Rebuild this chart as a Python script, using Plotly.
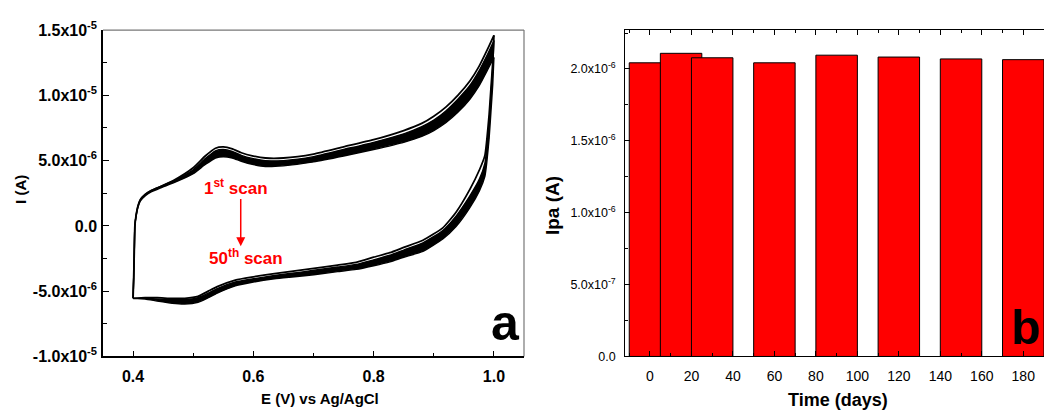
import plotly.graph_objects as go

# ---------------- Panel a: cyclic voltammograms (currents in µA) ----------------
# forward (anodic) sweep, 0.4 V -> 1.0 V
E_fwd = [0.400, 0.401, 0.402, 0.403, 0.405, 0.408, 0.412, 0.420, 0.430, 0.445,
         0.470, 0.500, 0.520, 0.537, 0.550, 0.565, 0.580, 0.600, 0.620, 0.650,
         0.700, 0.750, 0.800, 0.850, 0.880, 0.900, 0.920, 0.940, 0.960, 0.975,
         0.990, 1.000]
I_fwd_scan1 = [-5.55, -4.0, -2.0, 0.0, 0.8, 1.5, 2.0, 2.4, 2.7, 3.0,
               3.55, 4.45, 5.35, 5.95, 6.05, 5.9, 5.6, 5.35, 5.2, 5.2,
               5.5, 6.05, 6.6, 7.3, 7.85, 8.4, 9.1, 10.0, 11.1, 12.2,
               13.6, 14.6]
I_fwd_scan2 = [-5.55, -4.0, -2.0, 0.0, 0.8, 1.5, 2.0, 2.4, 2.7, 3.0,
               3.5, 4.3, 5.15, 5.75, 5.85, 5.7, 5.4, 5.15, 5.0, 5.0,
               5.3, 5.85, 6.4, 7.05, 7.6, 8.1, 8.8, 9.7, 10.75, 11.85,
               13.2, 14.2]
I_fwd_scan50 = [-5.5, -4.0, -2.0, 0.0, 0.75, 1.4, 1.9, 2.3, 2.6, 2.9,
                3.35, 4.0, 4.7, 5.2, 5.3, 5.2, 4.95, 4.7, 4.55, 4.6,
                4.9, 5.35, 5.85, 6.4, 6.85, 7.3, 7.9, 8.7, 9.7, 10.7,
                12.0, 12.9]

# reverse (cathodic) sweep, 1.0 V -> 0.4 V
E_rev = [1.000, 0.998, 0.995, 0.992, 0.988, 0.985, 0.976, 0.960, 0.937, 0.915,
         0.882, 0.850, 0.827, 0.800, 0.771, 0.740, 0.716, 0.685, 0.660, 0.635,
         0.600, 0.570, 0.540, 0.525, 0.508, 0.486, 0.465, 0.440, 0.420, 0.400]
I_rev_scan1 = [14.6, 12.5, 10.5, 8.5, 6.5, 5.4, 4.3, 2.8, 1.05, -0.15,
               -1.1, -1.65, -2.05, -2.4, -2.8, -3.0, -3.15, -3.35, -3.5, -3.65,
               -3.9, -4.15, -4.65, -5.0, -5.4, -5.55, -5.55, -5.5, -5.5, -5.55]
I_rev_scan2 = [14.2, 12.1, 10.0, 7.9, 5.9, 4.8, 3.6, 2.3, 0.75, -0.35,
               -1.3, -1.85, -2.25, -2.6, -2.95, -3.15, -3.3, -3.5, -3.65, -3.8,
               -4.05, -4.3, -4.8, -5.15, -5.5, -5.65, -5.65, -5.6, -5.55, -5.55]
I_rev_scan50 = [12.9, 10.8, 8.7, 6.7, 4.8, 3.8, 2.7, 1.4, -0.05, -1.0,
                -1.95, -2.4, -2.75, -3.05, -3.33, -3.5, -3.65, -3.82, -3.93, -4.05,
                -4.3, -4.6, -5.15, -5.5, -5.85, -5.98, -5.92, -5.75, -5.6, -5.55]

a_yticks = [-1.0e-5, -5.0e-6, 0.0, 5.0e-6, 1.0e-5, 1.5e-5]
a_yticktext = ["-1.0x10<sup>-5</sup>", "-5.0x10<sup>-6</sup>", "0.0",
               "5.0x10<sup>-6</sup>", "1.0x10<sup>-5</sup>", "1.5x10<sup>-5</sup>"]
a_yminor = [-7.5e-6, -2.5e-6, 2.5e-6, 7.5e-6, 1.25e-5]
a_xticks = [0.4, 0.6, 0.8, 1.0]
a_xminor = [0.5, 0.7, 0.9]

# ---------------- Panel b: peak anodic current vs storage time ----------------
days = [0, 15, 30, 60, 90, 120, 150, 180]
ipa_uA = [2.043, 2.109, 2.078, 2.043, 2.096, 2.083, 2.070, 2.065]
b_yticks = [0.0, 5.0e-7, 1.0e-6, 1.5e-6, 2.0e-6]
b_yticktext = ["0.0", "5.0x10<sup>-7</sup>", "1.0x10<sup>-6</sup>",
               "1.5x10<sup>-6</sup>", "2.0x10<sup>-6</sup>"]
b_xticks = [0, 20, 40, 60, 80, 100, 120, 140, 160, 180]

UA = 1e-6
FONT = "Liberation Sans, Arial, sans-serif"
W, H = 1044, 414


def px_x(p):
    return p / W


def px_y(p):
    return 1 - p / H


fig = go.Figure()

spline = dict(shape="spline", smoothing=0.5)

# dense band of scans 2..50 as a filled region, forward and reverse sweeps
for E, upper, lower in ((E_fwd, I_fwd_scan2, I_fwd_scan50),
                        (E_rev, I_rev_scan2, I_rev_scan50)):
    fig.add_trace(go.Scatter(x=E, y=[v * UA for v in upper], mode="lines",
                             line=dict(color="black", width=1.4, **spline),
                             xaxis="x", yaxis="y", showlegend=False,
                             hoverinfo="skip"))
    fig.add_trace(go.Scatter(x=E, y=[v * UA for v in lower], mode="lines",
                             line=dict(color="black", width=1.4, **spline),
                             fill="tonexty", fillcolor="black",
                             xaxis="x", yaxis="y", showlegend=False,
                             hoverinfo="skip"))

# first scan, separated from the band
for E, I in ((E_fwd, I_fwd_scan1), (E_rev, I_rev_scan1)):
    fig.add_trace(go.Scatter(x=E, y=[v * UA for v in I], mode="lines",
                             line=dict(color="black", width=1.8, **spline),
                             xaxis="x", yaxis="y", showlegend=False,
                             hoverinfo="skip"))

# bars
fig.add_trace(go.Bar(x=days, y=[v * UA for v in ipa_uA], width=[20] * len(days),
                     marker=dict(color="#ff0000",
                                 line=dict(color="black", width=1)),
                     xaxis="x2", yaxis="y2", showlegend=False,
                     hoverinfo="skip"))

dom_y = [px_y(363), px_y(20)]

fig.update_layout(
    width=W, height=H,
    margin=dict(l=0, r=0, t=0, b=0),
    paper_bgcolor="white", plot_bgcolor="white",
    font=dict(family=FONT, color="black"),
    xaxis=dict(domain=[px_x(103), px_x(524)], range=[0.35, 1.05], anchor="y",
               showgrid=False, zeroline=False, showline=True,
               linecolor="black", linewidth=1.5,
               ticks="inside", ticklen=6, tickwidth=1.2, tickcolor="black",
               tickmode="array", tickvals=a_xticks,
               ticktext=[f"{v:.1f}" for v in a_xticks],
               tickfont=dict(size=16, weight="bold"), ticklabelstandoff=5,
               minor=dict(tickmode="array", tickvals=a_xminor, ticks="inside",
                          ticklen=4, tickwidth=1.2, tickcolor="black")),
    yaxis=dict(domain=dom_y, range=[-1.0e-5, 1.5e-5], anchor="x",
               showgrid=False, zeroline=False, showline=True,
               linecolor="black", linewidth=1.5,
               ticks="inside", ticklen=6, tickwidth=1.2, tickcolor="black",
               tickmode="array", tickvals=a_yticks, ticktext=a_yticktext,
               tickfont=dict(size=16, weight="bold"), ticklabelstandoff=1,
               minor=dict(tickmode="array", tickvals=a_yminor, ticks="inside",
                          ticklen=4, tickwidth=1.2, tickcolor="black")),
    xaxis2=dict(domain=[px_x(625.3), 1.0], range=[-11.9, 190.0], anchor="y2",
                showgrid=False, zeroline=False, showline=True,
                linecolor="black", linewidth=1.2, mirror="ticks",
                ticks="inside", ticklen=5, tickwidth=1, tickcolor="black",
                tickmode="array", tickvals=b_xticks,
                ticktext=[str(v) for v in b_xticks],
                tickfont=dict(size=14), ticklabelstandoff=7,
                minor=dict(dtick=10, tick0=0, ticks="inside", ticklen=3,
                           tickwidth=1, tickcolor="black")),
    yaxis2=dict(domain=dom_y, range=[0, 2.271e-6], anchor="x2",
                showgrid=False, zeroline=False, showline=True,
                linecolor="black", linewidth=1.2,
                ticks="inside", ticklen=5, tickwidth=1, tickcolor="black",
                tickmode="array", tickvals=b_yticks, ticktext=b_yticktext,
                tickfont=dict(size=12.5), ticklabelstandoff=6,
                minor=dict(dtick=2.5e-7, tick0=0, ticks="inside", ticklen=3,
                           tickwidth=1, tickcolor="black")),
)

# light frame on the top and right of panel a
fig.add_shape(type="line", xref="paper", yref="paper",
              x0=px_x(103), x1=px_x(524), y0=px_y(20), y1=px_y(20),
              line=dict(color="#777777", width=1.2), layer="below")
fig.add_shape(type="line", xref="paper", yref="paper",
              x0=px_x(524), x1=px_x(524), y0=px_y(20), y1=px_y(363),
              line=dict(color="#777777", width=1.2), layer="below")

# scan-direction arrow
fig.add_annotation(x=0.579, y=-1.55e-6, ax=0.579, ay=2.17e-6,
                   xref="x", yref="y", axref="x", ayref="y",
                   text="", showarrow=True, arrowhead=2, arrowsize=1.2,
                   arrowwidth=1.5, arrowcolor="#ff0000")
fig.add_annotation(x=0.571, y=2.97e-6, xref="x", yref="y",
                   xanchor="center", yanchor="middle",
                   text="1<sup>st</sup> scan", showarrow=False,
                   font=dict(size=17, color="#ff0000", weight="bold"))
fig.add_annotation(x=0.588, y=-2.35e-6, xref="x", yref="y",
                   xanchor="center", yanchor="middle",
                   text="50<sup>th</sup> scan", showarrow=False,
                   font=dict(size=17, color="#ff0000", weight="bold"))


def paper_text(x, y, text, size, angle=0):
    fig.add_annotation(x=px_x(x), y=px_y(y), xref="paper", yref="paper",
                       xanchor="center", yanchor="middle", text=text,
                       showarrow=False, textangle=angle,
                       font=dict(size=size, weight="bold"))


# axis titles
paper_text(320, 407, "E (V) vs Ag/AgCl", 15)
paper_text(21, 188, "I (A)", 15, -90)
paper_text(837.5, 409, "Time (days)", 18)
paper_text(552, 205, "Ipa (A)", 19, -90)

# panel letters
paper_text(505.7, 328, "a", 50)
paper_text(1025.5, 333, "b", 48)

fig.write_html("out.html")
